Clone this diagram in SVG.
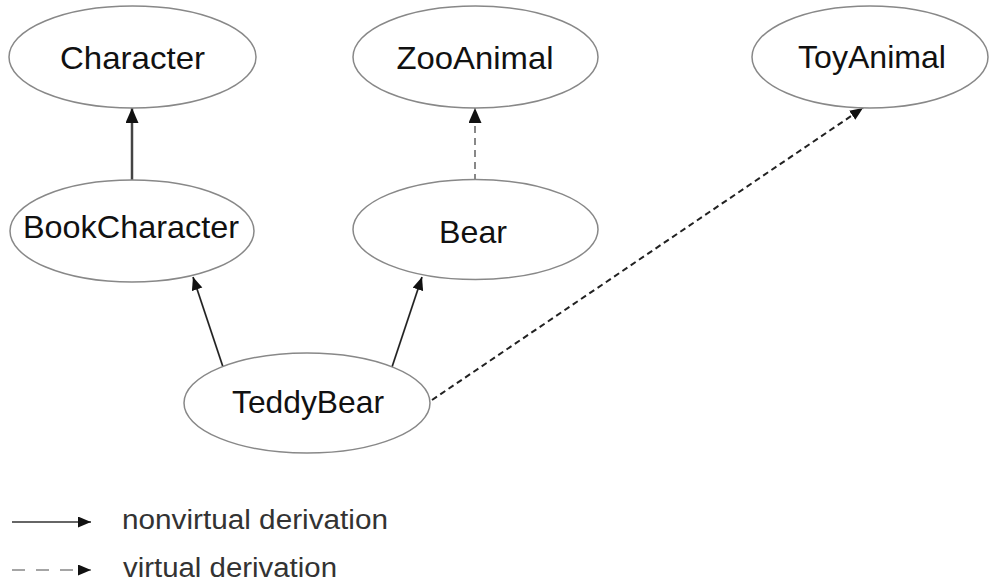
<svg xmlns="http://www.w3.org/2000/svg" width="989" height="586" viewBox="0 0 989 586">
<style>
.node ellipse{fill:#fff;stroke:#888;stroke-width:1.5}
.node text{font-family:"Liberation Sans",Arial,sans-serif;font-size:32px;fill:#111;text-anchor:middle}
.leg{font-family:"Liberation Sans",Arial,sans-serif;font-size:27px;fill:#333}
</style>
<defs>
<marker id="ah" markerUnits="userSpaceOnUse" markerWidth="16" markerHeight="14" refX="15" refY="6.5" orient="auto"><path d="M0,0 L15,6.5 L0,13 z" fill="#111"/></marker>
<marker id="ahs" markerUnits="userSpaceOnUse" markerWidth="14" markerHeight="12" refX="13" refY="5.5" orient="auto"><path d="M0,0 L13,5.5 L0,11 z" fill="#111"/></marker>
</defs>
<g id="connectors" fill="none">
<line x1="132" y1="181" x2="132" y2="108" stroke="#444" stroke-width="2.5" marker-end="url(#ah)"/>
<line x1="475" y1="181" x2="475" y2="108" stroke="#888" stroke-width="2" stroke-dasharray="7,5" marker-end="url(#ah)"/>
<line x1="223" y1="367" x2="193" y2="277" stroke="#222" stroke-width="1.7" marker-end="url(#ahs)"/>
<line x1="392" y1="367" x2="422" y2="277" stroke="#222" stroke-width="1.7" marker-end="url(#ahs)"/>
<line x1="432" y1="400" x2="863" y2="108" stroke="#222" stroke-width="2" stroke-dasharray="6,4" marker-end="url(#ahs)"/>
</g>
<g id="Character" class="node"><ellipse cx="132.5" cy="57" rx="123.5" ry="51"/><text x="132.5" y="69" textLength="145" lengthAdjust="spacingAndGlyphs">Character</text></g>
<g id="ZooAnimal" class="node"><ellipse cx="475.5" cy="57" rx="122.5" ry="51"/><text x="475" y="69" textLength="157" lengthAdjust="spacingAndGlyphs">ZooAnimal</text></g>
<g id="ToyAnimal" class="node"><ellipse cx="870" cy="57" rx="118" ry="51"/><text x="872" y="68" textLength="148" lengthAdjust="spacingAndGlyphs">ToyAnimal</text></g>
<g id="BookCharacter" class="node"><ellipse cx="132" cy="231" rx="122" ry="51"/><text x="131" y="238" textLength="216" lengthAdjust="spacingAndGlyphs">BookCharacter</text></g>
<g id="Bear" class="node"><ellipse cx="475.5" cy="229.5" rx="122.5" ry="50"/><text x="473" y="243" textLength="68" lengthAdjust="spacingAndGlyphs">Bear</text></g>
<g id="TeddyBear" class="node"><ellipse cx="307" cy="403" rx="123" ry="50"/><text x="308" y="413" textLength="152" lengthAdjust="spacingAndGlyphs">TeddyBear</text></g>
<g id="legend">
<line x1="12" y1="522" x2="91" y2="522" stroke="#333" stroke-width="1.5" marker-end="url(#ahs)"/>
<line x1="12" y1="570" x2="91" y2="570" stroke="#888" stroke-width="1.5" stroke-dasharray="13,11" marker-end="url(#ahs)"/>
<text class="leg" x="122" y="529" textLength="266" lengthAdjust="spacingAndGlyphs">nonvirtual derivation</text>
<text class="leg" x="123" y="577" textLength="214" lengthAdjust="spacingAndGlyphs">virtual derivation</text>
</g>
</svg>
